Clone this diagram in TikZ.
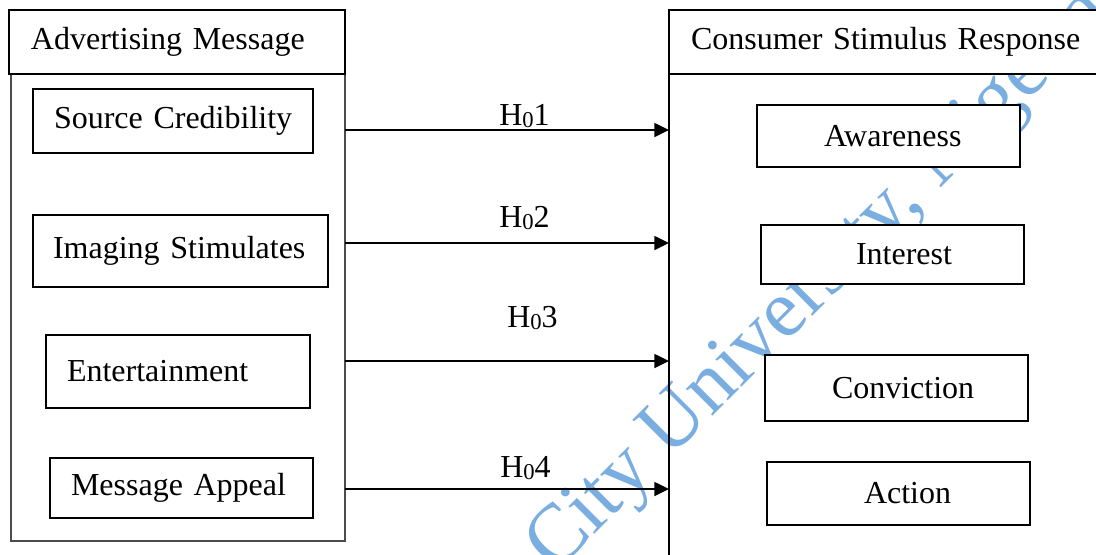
\documentclass[tikz,border=0pt]{standalone}
\usepackage{fontspec}
\setmainfont{Liberation Serif}
\usetikzlibrary{arrows.meta}
\definecolor{wmblue}{RGB}{122,174,224}
\newcommand{\hzero}{\raisebox{-0.07em}{\fontsize{17}{17}\selectfont 0}}
\newcommand{\boxfont}{\fontsize{24}{28}\selectfont\spaceskip 0.2em plus 0.05em\relax}

\begin{document}
\begin{tikzpicture}[x=0.75pt,y=0.75pt,yscale=-1,xscale=1,
  every node/.style={font=\boxfont},
  frame/.style={draw, line width=1pt, outer sep=0pt, anchor=north west, inner ysep=0pt},
  item/.style={frame, fill=white, align=left},
  hyparrow/.style={line width=1.1pt, -{Triangle[length=11pt,width=10.5pt]}},
  hyplab/.style={anchor=base west, inner sep=0pt},
  watermark/.style={wmblue, anchor=base west, rotate=45, inner sep=0pt, font=\fontsize{61.5}{62}\selectfont}]
\useasboundingbox (0,0) rectangle (1096,554);
\clip (0,0) rectangle (1096,554);

% watermark
\node[watermark] (wm) at (555,574) {City University, Nigeria};

% left column
\node[frame, draw=black!70, minimum width=250.5pt, minimum height=350.25pt] (msgbody) at (11,74) {};
\node[item, minimum height=48pt, text width=219pt, inner xsep=16.5pt] (adhead) at (9,10) {\mbox{Advertising Message}};
\node[item, minimum height=48pt, text width=178.5pt, inner xsep=15.75pt] (scred) at (33,89) {\mbox{Source Credibility}};
\node[item, minimum height=54pt, text width=191.25pt, inner xsep=15pt] (imgst) at (33,215) {\mbox{Imaging Stimulates}};
\node[item, minimum height=54.75pt, text width=166.5pt, inner xsep=15.75pt] (entert) at (46,335) {\mbox{Entertainment}};
\node[item, minimum height=45pt, text width=165.75pt, inner xsep=15.75pt] (msgap) at (50,458) {\mbox{Message Appeal}};

% right column
\node[frame, minimum width=345pt, minimum height=375pt] (respbody) at (669,74) {};
\node[item, minimum height=48pt, text width=312pt, inner xsep=16.5pt] (cshead) at (669,10) {\mbox{Consumer Stimulus Response}};
\node[item, minimum height=46.5pt, text width=96.75pt, inner xsep=50.25pt] (aware) at (757,105) {\mbox{Awareness}};
\node[item, minimum height=44.25pt, text width=54.75pt, inner xsep=71.25pt] (inter) at (761,225) {\mbox{Interest}};
\node[item, minimum height=49.5pt, text width=96.75pt, inner xsep=50.25pt] (convic) at (765,355) {\mbox{Conviction}};
\node[item, minimum height=47.25pt, text width=51.75pt, inner xsep=72.75pt] (action) at (767,462) {\mbox{Action}};

% hypotheses
\foreach \y/\yb/\lx [count=\i] in {130/125/499, 243/227/499, 361/327/507, 489/477/500} {
  \draw[hyparrow] (msgbody.east |- 0,\y) -- (respbody.west |- 0,\y);
  \node[hyplab] (hyp\i) at (\lx,\yb) {H\hzero\i};
}

\end{tikzpicture}
\end{document}
